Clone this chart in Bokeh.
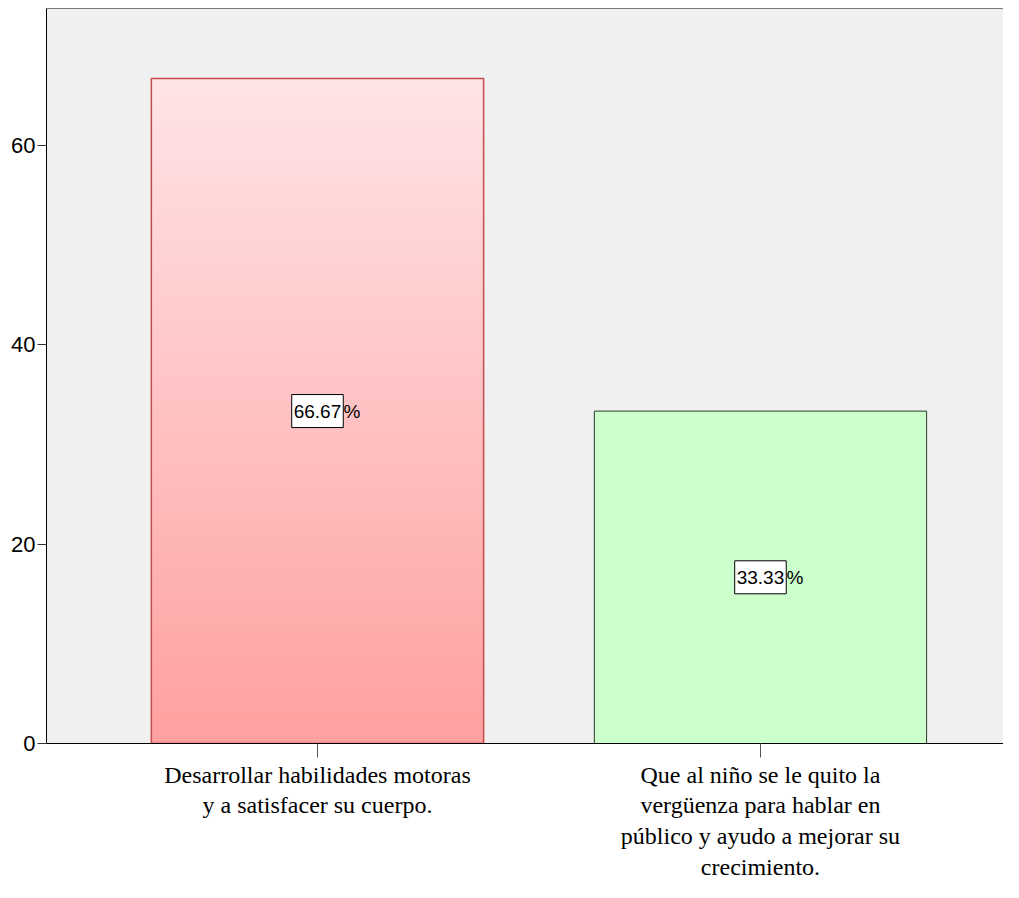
import numpy as np
from bokeh.plotting import figure
from bokeh.models import LinearAxis, FixedTicker, ColumnDataSource, Range1d
from bokeh.core.properties import value
from bokeh.embed import file_html
from bokeh.resources import INLINE

# ---- data ----
categories = [
    "Desarrollar habilidades motoras\ny a satisfacer su cuerpo.",
    "Que al niño se le quito la\nvergüenza para hablar en\npúblico y ayudo a mejorar su\ncrecimiento.",
]
percent = [66.67, 33.33]
y_ticks = [0, 20, 40, 60]

x = list(range(1, len(categories) + 1))
bar_w = 0.75

p = figure(width=1003, height=882, output_backend="svg", toolbar_location=None,
           x_range=Range1d(0.3883, 2.5486), y_range=Range1d(0, 73.7),
           min_border_left=46, min_border_right=0, min_border_top=8, min_border_bottom=137)
p.background_fill_color = "#F0F0F0"
p.border_fill_color = "white"
p.outline_line_color = None
p.grid.visible = False

# gradient fill of first bar (light at top, darker pink at bottom)
n = 160
top_col = np.array([255, 228, 230])
bot_col = np.array([255, 160, 160])
edges = np.linspace(0, percent[0], n + 1)
t = (np.arange(n) + 0.5) / n
cols = ["#%02x%02x%02x" % tuple(int(round(c)) for c in (bot_col + (top_col - bot_col) * ti)) for ti in t]
grad = ColumnDataSource(dict(bottom=edges[:-1], top=edges[1:], c=cols))
p.quad(left=x[0] - bar_w / 2, right=x[0] + bar_w / 2, bottom="bottom", top="top",
       fill_color="c", line_color="c", line_width=1, source=grad)
p.vbar(x=x[0], width=bar_w, top=percent[0], bottom=0, fill_color=None,
       line_color="#C44C4C", line_width=1.5)

# second bar
p.vbar(x=x[1], width=bar_w, top=percent[1], bottom=0, fill_color="#CCFFCC",
       line_color="#2A3A2A", line_width=1)

# value labels
lab = ColumnDataSource(dict(x=x, y=[v / 2 for v in percent],
                            t=["%.2f" % v for v in percent], pct=["%"] * len(x)))
p.text(x="x", y="y", text="t", source=lab, text_font=value("Liberation Sans"),
       text_font_size="19px", text_align="center", text_baseline="middle",
       text_color="black", background_fill_color="white", border_line_color="black",
       border_line_width=1, padding=dict(left=2, right=2, top=10, bottom=10))
p.text(x="x", y="y", text="pct", source=lab, text_font=value("Liberation Sans"),
       text_font_size="19px", text_align="left", text_baseline="middle",
       text_color="black", x_offset=26)

# y axis
yax = p.yaxis[0]
yax.ticker = FixedTicker(ticks=y_ticks)
yax.major_label_text_font = "Liberation Sans"
yax.major_label_text_font_size = "22px"
yax.major_label_text_color = "black"
yax.major_tick_out = 9
yax.major_tick_in = 0
yax.minor_tick_out = 0
yax.minor_tick_in = 0
yax.major_tick_line_color = "#333333"
yax.axis_line_color = "black"
yax.major_label_standoff = 2

# x axis
xax = p.xaxis[0]
xax.ticker = FixedTicker(ticks=x)
xax.major_label_overrides = {xi: c for xi, c in zip(x, categories)}
xax.major_label_text_font = "Liberation Serif"
xax.major_label_text_font_size = "24px"
xax.major_label_text_line_height = 1.18
xax.major_label_text_color = "black"
xax.major_tick_out = 14
xax.major_tick_in = 0
xax.minor_tick_out = 0
xax.minor_tick_in = 0
xax.major_tick_line_color = "#555555"
xax.axis_line_color = "black"
xax.major_label_standoff = 4

# top border line
top_ax = LinearAxis(ticker=FixedTicker(ticks=[]), axis_line_color="#7a7a7a",
                    major_tick_out=0, major_tick_in=0, minor_tick_out=0, minor_tick_in=0,
                    major_label_standoff=0, major_label_text_font_size="0px")
p.add_layout(top_ax, "above")

open("out.html", "w").write(file_html(p, INLINE))
